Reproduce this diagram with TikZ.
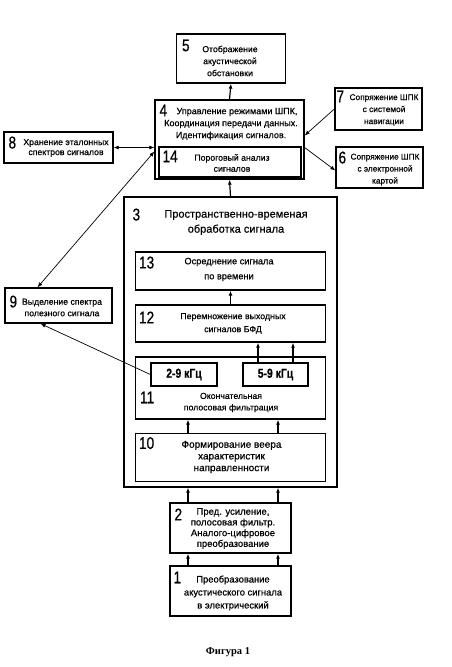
\documentclass[tikz,border=0pt]{standalone}
\usepackage{fontspec}
\setmainfont{Liberation Sans}[FakeBold=0.6]
\newfontfamily\numfont{Liberation Sans}[FakeStretch=0.8, FakeBold=0.6]
\newfontfamily\capfont{Liberation Serif}
\usetikzlibrary{positioning}
\usetikzlibrary{arrows.meta}

\begin{document}
\begin{tikzpicture}[x=1pt,y=-1pt,
  box/.style={draw, line width=1.3pt, inner sep=0pt},
  txt/.style={align=center, inner sep=0pt, font=\fontsize{8.7}{12}\selectfont},
  num/.style={inner sep=0pt, font=\numfont\fontsize{17}{17}\selectfont},
  band/.style={inner sep=0pt, font=\numfont\bfseries\fontsize{13}{13}\selectfont},
  arr/.style={line width=1.2pt, -{Latex[length=5pt,width=4pt]}},
  link/.style={line width=0.7pt, -{Latex[length=5pt,width=4pt]}}]
\useasboundingbox (0,0) rectangle (451,667);

%top
\node[box, minimum width=109pt, minimum height=49pt] (b5) at (231,58.5) {};
\node[box, minimum width=149pt, minimum height=79pt] (b4) at (229.5,139.5) {};
\node[box, minimum width=142pt, minimum height=30pt] (b14) at (230,162) {};
\node[box, minimum width=87pt, minimum height=42pt] (b7) at (378.5,109) {};
\node[box, minimum width=87pt, minimum height=41pt] (b6) at (379.5,167.5) {};
\node[box, minimum width=109pt, minimum height=31pt] (b8) at (58.5,147.5) {};
\node[box, minimum width=107pt, minimum height=35pt] (b9) at (58.5,305.5) {};

%processing block
\node[box, minimum width=213pt, minimum height=290pt] (b3) at (230.5,342) {};
\node[box, minimum width=190pt, minimum height=38pt] (b13) at (230.5,271) {};
\node[box, minimum width=190pt, minimum height=37pt] (b12) at (230.5,323.5) {};
\node[box, minimum width=190pt, minimum height=62pt] (b11) at (230.5,388) {};
\node[box, minimum width=66pt, minimum height=23pt] (f29) at (184,374.5) {};
\node[box, minimum width=65pt, minimum height=23pt] (f59) at (275.5,374.5) {};
\node[box, minimum width=190pt, minimum height=48pt] (b10) at (230.5,457.5) {};

%bottom
\node[box, minimum width=121pt, minimum height=50pt] (b2) at (230.5,528) {};
\node[box, minimum width=121pt, minimum height=50pt] (b1) at (230.5,591) {};

%numbers
\node[num, below right=6pt and 6pt of b5.north west] (n5) {5};
\node[num, below right=5pt and 5pt of b4.north west] (n4) {4};
\node[num, below right=4pt and 4pt of b14.north west] (n14) {14};
\node[num, below right=3pt and 2pt of b7.north west] (n7) {7};
\node[num, below right=5pt and 3pt of b6.north west] (n6) {6};
\node[num, below right=5pt and 5pt of b8.north west] (n8) {8};
\node[num, below right=8pt and 5pt of b9.north west] (n9) {9};
\node[num, below right=12pt and 9pt of b3.north west] (n3) {3};
\node[num, below right=5pt and 4pt of b13.north west] (n13) {13};
\node[num, below right=7pt and 4pt of b12.north west] (n12) {12};
\node[num, below right=35pt and 5pt of b11.north west] (n11) {11};
\node[num, below right=4pt and 4pt of b10.north west] (n10) {10};
\node[num, below right=6pt and 5pt of b2.north west] (n2) {2};
\node[num, below right=6pt and 4pt of b1.north west] (n1) {1};

%texts
\node[txt] (t5) at (230,61) {Отображение\\акустической\\обстановки};
\node[txt, font=\fontsize{9}{12}\selectfont] (t4) at (231,124) {\hspace*{12pt}Управление режимами ШПК,\\Координация передачи данных.\\Идентификация сигналов.};
\node[txt, font=\fontsize{8.7}{11}\selectfont] (t14) at (232,163) {Пороговый анализ\\сигналов};
\node[txt, font=\fontsize{8.3}{12}\selectfont] (t7) at (384,110) {Сопряжение ШПК\\с системой\\навигации};
\node[txt, font=\fontsize{8.3}{12}\selectfont] (t6) at (385,169.5) {Сопряжение ШПК\\с электронной\\картой};
\node[txt, font=\fontsize{8.7}{10}\selectfont] (t8) at (66,148) {Хранение эталонных\\спектров сигналов};
\node[txt, font=\fontsize{8.7}{11.5}\selectfont] (t9) at (62,307.5) {Выделение спектра\\полезного сигнала};
\node[txt, font=\fontsize{11}{15}\selectfont] (t3) at (236,222.5) {Пространственно-временая\\обработка сигнала};
\node[txt, font=\fontsize{9.2}{15}\selectfont] (t13) at (229,269.5) {Осреднение сигнала\\по времени};
\node[txt, font=\fontsize{8.8}{13}\selectfont] (t12) at (233,323.5) {Перемножение выходных\\сигналов БФД};
\node[band] (t29) at (f29) {2-9 кГц};
\node[band] (t59) at (f59) {5-9 кГц};
\node[txt, font=\fontsize{8.7}{11.5}\selectfont] (t11) at (231,402.5) {Окончательная\\полосовая фильтрация};
\node[txt, font=\fontsize{10}{11.7}\selectfont] (t10) at (231.5,457) {Формирование веера\\характеристик\\направленности};
\node[txt, font=\fontsize{9.5}{10.7}\selectfont] (t2) at (233,528.5) {Пред. усиление,\\полосовая фильтр.\\Аналого-цифровое\\преобразование};
\node[txt, font=\fontsize{9.4}{13}\selectfont] (t1) at (233,593) {Преобразование\\акустического сигнала\\в электрический};

%links
\draw[arr] (b4.north) -- (b5.south);
\draw[arr] (b3.north) -- (b4.south);
\draw[link] (b7.west) -- ([yshift=4pt]b4.east);
\draw[link] ([yshift=-8pt]b4.east) -- ([yshift=-3pt]b6.west);
\draw[link, <->, >={Latex[length=5pt,width=4pt]}] (b8.east) -- (b8.east -| b4.west);
\draw[link, <->, >={Latex[length=5pt,width=4pt]}] ([xshift=-21pt]b9.north) -- ([yshift=-12pt]b4.west);
\draw[link] (f29.west) -- ([xshift=-18pt]b9.south);
\draw[arr] (b12.north) -- (b13.south);
\foreach \s in {-17.5,17.5}
  \draw[arr] ([xshift=\s pt]f59.north) -- ([xshift=\s pt]f59.north |- b12.south);
\foreach \s in {-42.5,47.5}{
  \draw[arr] ([xshift=\s pt]b10.north) -- ([xshift=\s pt]b11.south);
  \draw[arr] ([xshift=\s pt]b2.north) -- ([xshift=\s pt]b3.south);
  \draw[arr] ([xshift=\s pt]b1.north) -- ([xshift=\s pt]b2.south);
}

%caption
\node[font=\capfont\bfseries\fontsize{10.5}{10.5}\selectfont] (cap) at (228,652) {Фигура 1};
\end{tikzpicture}
\end{document}
